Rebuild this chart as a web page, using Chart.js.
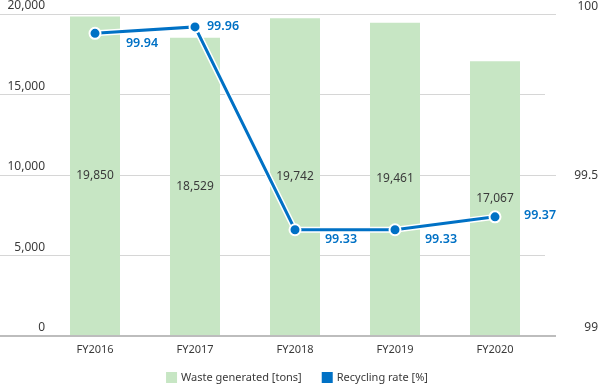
<!DOCTYPE html>
<html>
<head>
<meta charset="utf-8">
<script src="https://cdn.jsdelivr.net/npm/chart.js@4.4.1/dist/chart.umd.min.js"></script>
<style>
  html, body { margin: 0; padding: 0; background: #fff; }
  #wrap { width: 601px; height: 386px; }
</style>
</head>
<body>
<div id="wrap"><canvas id="chart" width="601" height="386"></canvas></div>
<script>
const categories = ['FY2016', 'FY2017', 'FY2018', 'FY2019', 'FY2020'];
const wasteTons = [19850, 18529, 19742, 19461, 17067];
const recyclingRate = [99.94, 99.96, 99.33, 99.33, 99.37];
const leftTicks = [0, 5000, 10000, 15000, 20000];
const rightTicks = [99, 99.5, 100];

const GREEN = '#c7e6c4';
const BLUE = '#0071c5';
const TEXT = '#3a3a3a';
const FONT = '"Noto Sans", "Open Sans", sans-serif';

function gridColor(ctx) {
  return ctx.tick && ctx.index === 0 ? '#bdbdbd' : '#d6d6d6';
}
function gridWidth(ctx) {
  return ctx.tick && ctx.index === 0 ? 2 : 1;
}

// offsets for the rate labels, relative to each point
const rateLabelOffsets = [[47, 10], [28, 0], [46, 10], [46, 10], [45, -1]];

const labelsPlugin = {
  id: 'labels',
  afterDraw(chart) {
    const ctx = chart.ctx;
    const x = chart.scales.x;
    const y = chart.scales.y;
    const y1 = chart.scales.y1;
    ctx.save();
    ctx.fillStyle = TEXT;
    ctx.font = '12px ' + FONT;
    ctx.textBaseline = 'middle';
    ctx.textAlign = 'right';
    leftTicks.forEach(v => {
      ctx.fillText(v.toLocaleString('en-US'), 45, y.getPixelForValue(v) - 8);
    });
    rightTicks.forEach((v, i) => {
      let py = y1.getPixelForValue(v);
      if (i === 0) py -= 8;
      else if (i === rightTicks.length - 1) py -= 7;
      else py += 1;
      ctx.fillText(String(v), 598, py);
    });

    // category labels
    ctx.textAlign = 'center';
    ctx.font = '11px ' + FONT;
    categories.forEach((c, i) => {
      ctx.fillText(c, x.getPixelForValue(i), chart.chartArea.bottom + 14);
    });

    // bar values
    ctx.font = '12px ' + FONT;
    const barMeta = chart.getDatasetMeta(0);
    barMeta.data.forEach((el, i) => {
      ctx.fillText(wasteTons[i].toLocaleString('en-US'), el.x, (el.y + el.base) / 2);
    });

    // rate values
    ctx.fillStyle = BLUE;
    ctx.font = '600 12.5px ' + FONT;
    const lineMeta = chart.getDatasetMeta(2);
    lineMeta.data.forEach((el, i) => {
      const o = rateLabelOffsets[i];
      ctx.fillText(recyclingRate[i].toFixed(2), el.x + o[0], el.y + o[1]);
    });

    // legend
    ctx.font = '11px ' + FONT;
    ctx.textAlign = 'left';
    ctx.fillStyle = TEXT;
    const items = [
      { text: chart.data.datasets[0].label, color: GREEN },
      { text: chart.data.datasets[2].label, color: BLUE }
    ];
    const box = 11, gap = 4, itemGap = 20;
    let total = 0;
    items.forEach((it, i) => {
      it.w = box + gap + ctx.measureText(it.text).width;
      total += it.w + (i > 0 ? itemGap : 0);
    });
    let lx = 297 - total / 2;
    const ly = 378;
    items.forEach(it => {
      ctx.fillStyle = it.color;
      ctx.fillRect(lx, ly - 6, box, box);
      ctx.fillStyle = TEXT;
      ctx.fillText(it.text, lx + box + gap, ly);
      lx += it.w + itemGap;
    });
    ctx.restore();
  }
};

new Chart(document.getElementById('chart'), {
  data: {
    labels: categories,
    datasets: [
      {
        type: 'bar',
        label: 'Waste generated [tons]',
        data: wasteTons,
        backgroundColor: GREEN,
        barPercentage: 0.5,
        categoryPercentage: 1,
        yAxisID: 'y',
        order: 3
      },
      {
        type: 'line',
        label: 'halo',
        data: recyclingRate,
        borderColor: '#ffffff',
        borderWidth: 6,
        pointRadius: 0,
        yAxisID: 'y1',
        order: 2
      },
      {
        type: 'line',
        label: 'Recycling rate [%]',
        data: recyclingRate,
        borderColor: BLUE,
        backgroundColor: BLUE,
        borderWidth: 3,
        pointRadius: 5.5,
        pointBorderColor: '#ffffff',
        pointBorderWidth: 2,
        pointBackgroundColor: BLUE,
        yAxisID: 'y1',
        order: 1
      }
    ]
  },
  options: {
    responsive: false,
    animation: false,
    layout: { padding: { top: 14, bottom: 0, left: 0, right: 0 } },
    plugins: {
      legend: { display: false },
      tooltip: { enabled: false }
    },
    scales: {
      x: {
        grid: { display: false },
        border: { display: false },
        ticks: { display: false },
        afterFit: s => { s.height = 50; }
      },
      y: {
        position: 'left',
        min: 0,
        max: 20000,
        ticks: { stepSize: 5000, display: false },
        grid: { color: gridColor, lineWidth: gridWidth, drawTicks: true, tickLength: 45 },
        border: { display: false },
        afterFit: s => { s.width = 45; }
      },
      y1: {
        position: 'right',
        min: 99,
        max: 100,
        ticks: { stepSize: 0.5, display: false },
        grid: { drawOnChartArea: false, color: gridColor, lineWidth: gridWidth, drawTicks: true, tickLength: 11 },
        border: { display: false },
        afterFit: s => { s.width = 56; }
      }
    }
  },
  plugins: [labelsPlugin]
});
</script>
</body>
</html>
